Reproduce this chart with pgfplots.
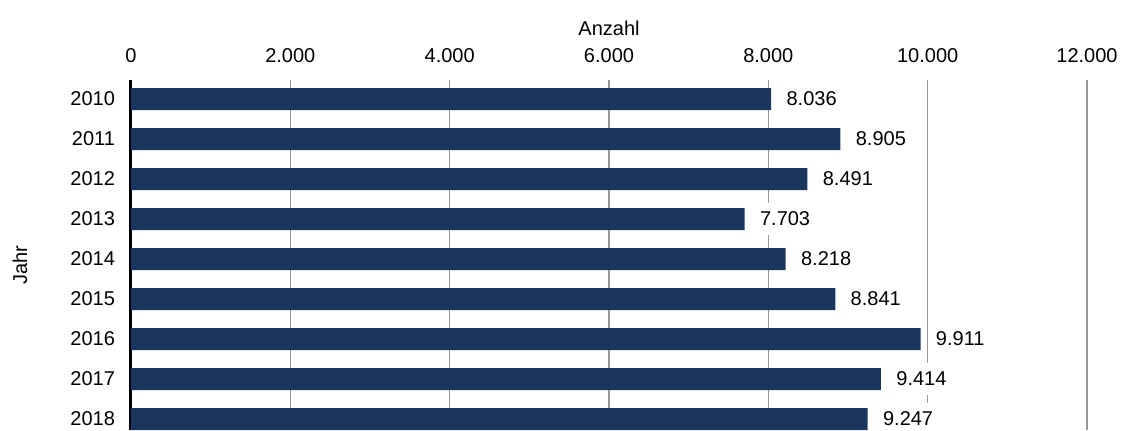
\documentclass[border=0pt]{standalone}
\usepackage{pgfplots}
\pgfplotsset{compat=1.18}
\usepackage{fontspec}
\setmainfont{Liberation Sans}
\definecolor{barblue}{RGB}{27,54,93}
\definecolor{gridgray}{RGB}{150,150,150}
\begin{document}
\begin{tikzpicture}
\begin{axis}[
  name=ax, at={(0,0)}, anchor=south west,
  scale only axis, width=478pt, height=175pt,
  xbar, bar width=11pt,
  xmin=0, xmax=12000,
  ymin=-0.475, ymax=8.275, y dir=reverse,
  xtick={0,2000,4000,6000,8000,10000,12000},
  ytick={0,...,8},
  yticklabels={2010,2011,2012,2013,2014,2015,2016,2017,2018},
  axis x line*=top, axis y line*=left,
  x axis line style={draw=none},
  y axis line style={line width=1.5pt,black},
  major tick length=0pt,
  xmajorgrids, grid style={gridgray,line width=0.75pt},
  scaled x ticks=false,
  /pgf/number format/fixed,
  /pgf/number format/1000 sep={.},
  /pgf/number format/assume math mode=true,
  tick label style={font=\fontsize{10}{12}\selectfont},
  xticklabel style={anchor=center,yshift=12pt},
  yticklabel style={xshift=-4.5pt},
  label style={font=\fontsize{10}{12}\selectfont},
  xlabel={Anzahl},
  xlabel style={at={(axis description cs:0.5,1)},anchor=center,yshift=26pt},
  ylabel={Jahr},
  ylabel style={at={(axis description cs:0,0.471)},anchor=center,yshift=55.5pt},
  nodes near coords={\pgfmathprintnumber{\pgfplotspointmeta}},
  every node near coord/.append style={anchor=west,fill=white,inner xsep=3.5pt,inner ysep=4.5pt,text depth=0pt,xshift=4pt,font=\fontsize{10}{12}\selectfont,text=black},
]
  \addplot[fill=barblue,draw=none] coordinates {(8036,0) (8905,1) (8491,2) (7703,3) (8218,4) (8841,5) (9911,6) (9414,7) (9247,8)};
\end{axis}
\pgfresetboundingbox
\useasboundingbox (-65.5pt,0) rectangle (495pt,215pt);
\end{tikzpicture}
\end{document}
